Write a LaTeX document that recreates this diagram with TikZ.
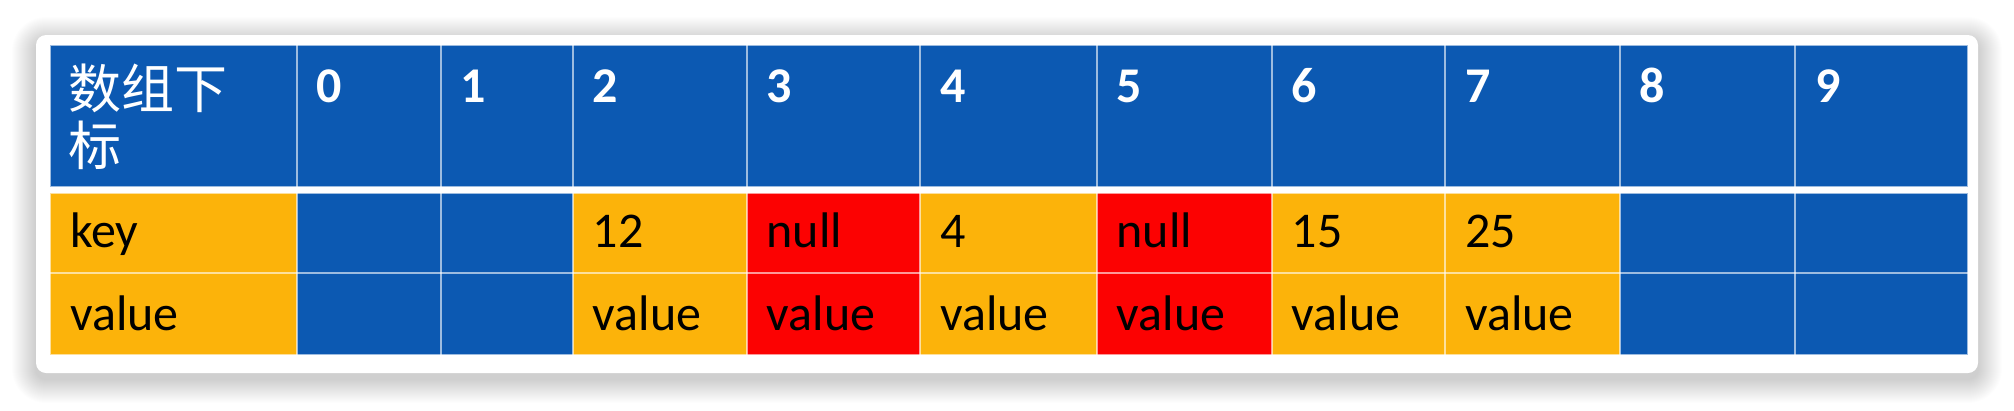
\documentclass[tikz,border=0pt]{standalone}
\usepackage{fontspec}
\setmainfont{Carlito}
\newfontfamily\cjk{Noto Sans CJK SC}
\usetikzlibrary{positioning, calc}
\definecolor{idxblue}{RGB}{12, 89, 178}
\definecolor{keyorange}{RGB}{252, 179, 10}
\definecolor{nullred}{RGB}{252, 2, 2}

\begin{document}
\begin{tikzpicture}[
    x=1pt, y=-1pt,
    cell/.style={anchor=base west, inner sep=0pt, font=\fontsize{50}{58}\selectfont},
    idx/.style={cell, text=white, font=\fontsize{50}{58}\selectfont\bfseries},
    cnhead/.style={anchor=base west, inner sep=0pt, text=white, font=\cjk\fontsize{53}{58}\selectfont},
    gridline/.style={draw=white, draw opacity=0.6, line width=2pt}
]
\useasboundingbox (0,0) rectangle (2014,410);
\fill[white] (0,0) rectangle (2014,410);

% shadow under the card
\foreach \i in {1,...,24}{
  \pgfmathsetmacro\rr{10+\i}
  \fill[black, opacity=0.008, rounded corners=\rr pt] (36-\i,41-\i) rectangle (1978+\i,379+\i);
}
% card
\fill[white, rounded corners=10pt] (36,35) rectangle (1978,373);

% header row
\fill[idxblue] (50,45) rectangle (1968,186.5);
\node[cnhead] (hlabel) at (68,108) {数组下};
\node[cnhead] (hlabel2) at (68,165) {标};
\foreach \x [count=\i from 0] in {296.7,440.7,572.7,746.5,920,1096.5,1271.5,1445,1619.5,1795}
  \node[idx] (h\i) at (\x+20,102) {\i};

% key / value rows
\foreach \l/\r/\c/\k/\v [count=\j] in {
    50/296.7/keyorange/key/value,
    296.7/440.7/idxblue//,
    440.7/572.7/idxblue//,
    572.7/746.5/keyorange/12/value,
    746.5/920/nullred/null/value,
    920/1096.5/keyorange/4/value,
    1096.5/1271.5/nullred/null/value,
    1271.5/1445/keyorange/15/value,
    1445/1619.5/keyorange/25/value,
    1619.5/1795/idxblue//,
    1795/1968/idxblue//}{
  \fill[\c] (\l,193) rectangle (\r,355);
  \node[cell] (k\j) at (\l+20,247) {\k};
  \node[cell] (v\j) at (\l+20,330) {\v};
}

% grid lines
\foreach \x in {296.7,440.7,572.7,746.5,920,1096.5,1271.5,1445,1619.5,1795}{
  \draw[gridline] (\x,45) -- (\x,186.5);
  \draw[gridline] (\x,193) -- (\x,355);
}
\draw[gridline] (50,273) -- (1968,273);
\draw[gridline] (50,45) rectangle (1968,186.5);
\draw[gridline] (50,193) rectangle (1968,355);

\end{tikzpicture}
\end{document}
